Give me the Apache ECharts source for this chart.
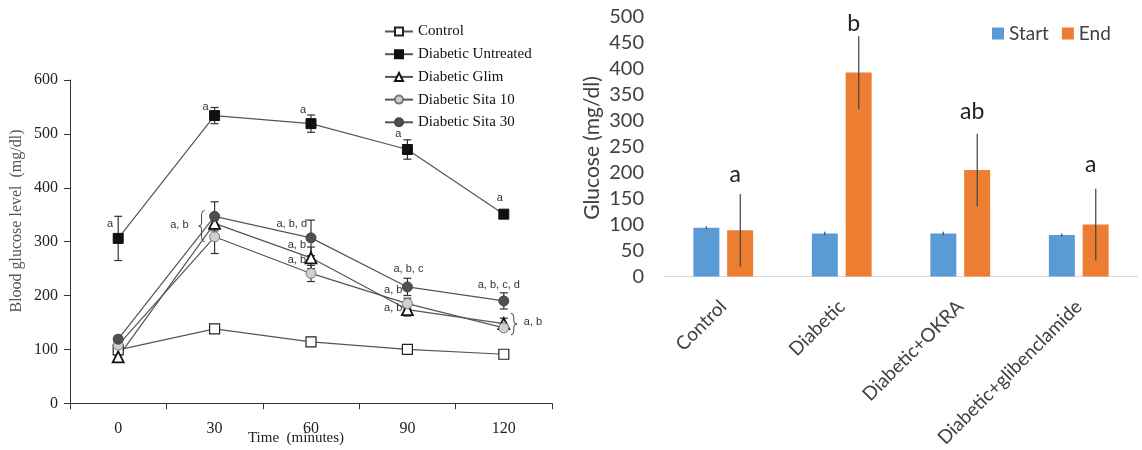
<!DOCTYPE html>
<html><head><meta charset="utf-8">
<script src="https://cdn.jsdelivr.net/npm/echarts@6/dist/echarts.min.js"></script>
<style>html,body{margin:0;padding:0;background:#fff}#c{width:1142px;height:450px}</style>
</head><body><div id="c"></div>
<script>
// ---- Left chart data ----
const timeLabels = ['0', '30', '60', '90', '120'];
const control = [99, 138, 114, 100, 91];
const controlErr = [4, 5, 4, 4, 4];
const untreated = [306, 534, 519, 471, 351];
const untreatedErr = [41, 15, 16, 18, 5];
const glim = [86, 334, 270, 174, 148];
const glimErr = [4, 10, 20, 12, 10];
const sita10 = [108, 309, 241, 185, 140];
const sita10Err = [6, 31, 15, 10, 5];
const sita30 = [119, 347, 307, 216, 190];
const sita30Err = [6, 27, 33, 16, 15];
// [time index, value, text, align, dx]
const leftAnnotations = [
  [0, 333, 'a', 'right', -5],
  [1, 331, 'a, b', 'right', -26],
  [1, 550, 'a', 'right', -6],
  [2, 544, 'a', 'right', -5],
  [3, 500, 'a', 'right', -6],
  [4, 381, 'a', 'right', -1],
  [2, 333, 'a, b, d', 'right', -4],
  [2, 294, 'a, b', 'right', -5],
  [2, 266, 'a, b', 'right', -5],
  [3, 249, 'a, b, c', 'center', 1],
  [3, 210, 'a, b', 'right', -5],
  [3, 177, 'a, b', 'right', -5],
  [4, 220, 'a, b, c, d', 'center', -5],
  [4, 151, 'a, b', 'left', 20]
];
// [time index, top value, bottom value, dx, direction]
const braces = [[1, 358, 300, -16, 'open'], [4, 167, 127, 7, 'close']];

// ---- Right chart data ----
const groups = ['Control', 'Diabetic', 'Diabetic+OKRA', 'Diabetic+glibenclamide'];
const startVals = [94, 83, 83, 80];
const startErr = [3, 3, 3, 3];
const endVals = [89, 393, 205, 100];
const endErr = [70, 70, 70, 69];
const sigLetters = ['a', 'b', 'ab', 'a'];
const sigLetterY = [197, 488, 318, 215];

const SERIF = '"Liberation Serif", "Times New Roman", serif';
const SANS = 'Lato, "Liberation Sans", sans-serif';
const LINE = '#555';

function lineSeries(name, data, symbol, fill, border, bw) {
  return {
    type: 'line', name, data, xAxisIndex: 0, yAxisIndex: 0,
    symbol, symbolSize: symbol === 'triangle' ? 11 : 10,
    lineStyle: { color: LINE, width: 1.2 },
    itemStyle: { color: fill, borderColor: border, borderWidth: bw, opacity: 1 },
    z: 4
  };
}
function errSeries(vals, errs) {
  return {
    type: 'custom', xAxisIndex: 0, yAxisIndex: 0, z: 3, silent: true,
    data: vals.map((v, i) => [i, v - errs[i], v + errs[i]]),
    renderItem(params, api) {
      const lo = api.coord([api.value(0), api.value(1)]);
      const hi = api.coord([api.value(0), api.value(2)]);
      const x = lo[0], c = 4;
      const st = { stroke: '#333', lineWidth: 1.2 };
      return { type: 'group', children: [
        { type: 'line', shape: { x1: x, y1: lo[1], x2: x, y2: hi[1] }, style: st },
        { type: 'line', shape: { x1: x - c, y1: lo[1], x2: x + c, y2: lo[1] }, style: st },
        { type: 'line', shape: { x1: x - c, y1: hi[1], x2: x + c, y2: hi[1] }, style: st }
      ]};
    }
  };
}
function barErr(vals, errs, side) {
  return {
    type: 'custom', xAxisIndex: 1, yAxisIndex: 1, z: 5, silent: true,
    data: vals.map((v, i) => [i, v - errs[i], v + errs[i]]),
    renderItem(params, api) {
      const lo = api.coord([api.value(0), api.value(1)]);
      const hi = api.coord([api.value(0), api.value(2)]);
      const x = lo[0] + side * 17;
      return { type: 'line', shape: { x1: x, y1: lo[1], x2: x, y2: hi[1] }, style: { stroke: '#404040', lineWidth: 1.2 } };
    }
  };
}

const chart = echarts.init(document.getElementById('c'), null, { renderer: 'canvas' });
chart.setOption({
  animation: false,
  backgroundColor: '#fff',
  grid: [
    { left: 70, top: 80, width: 482, height: 323.3 },
    { left: 664, top: 17, width: 474, height: 260.7 }
  ],
  legend: [
    {
      data: ['Control', 'Diabetic Untreated', 'Diabetic Glim', 'Diabetic Sita 10', 'Diabetic Sita 30'],
      orient: 'vertical', left: 379, top: 19, itemWidth: 28, itemHeight: 10, itemGap: 7.7,
      textStyle: { fontFamily: SERIF, fontSize: 15, color: '#111' }
    },
    {
      data: ['Start', 'End'], left: 987, top: 19, icon: 'rect', itemWidth: 12, itemHeight: 12, itemGap: 13,
      textStyle: { fontFamily: SANS, fontSize: 19, color: '#404040' }
    }
  ],
  xAxis: [
    {
      type: 'category', gridIndex: 0, data: timeLabels, boundaryGap: true,
      axisLine: { lineStyle: { color: '#333', width: 1 } },
      axisTick: { show: true, length: 6, lineStyle: { color: '#333' } },
      axisLabel: { fontFamily: SERIF, fontSize: 16, color: '#222', margin: 17 }
    },
    {
      type: 'category', gridIndex: 1, data: groups,
      axisLine: { lineStyle: { color: '#d9d9d9', width: 1 } },
      axisTick: { show: false },
      axisLabel: { fontFamily: SANS, fontSize: 19, color: '#404040', rotate: 45, margin: 27, interval: 0 }
    }
  ],
  yAxis: [
    {
      type: 'value', gridIndex: 0, min: 0, max: 600, interval: 100,
      axisLine: { show: true, lineStyle: { color: '#333', width: 1 } },
      axisTick: { show: true, length: 6, lineStyle: { color: '#333' } },
      splitLine: { show: false },
      axisLabel: { fontFamily: SERIF, fontSize: 16, color: '#222', margin: 12 }
    },
    {
      type: 'value', gridIndex: 1, min: 0, max: 500, interval: 50,
      axisLine: { show: false }, axisTick: { show: false }, splitLine: { show: false },
      axisLabel: { fontFamily: SANS, fontSize: 20, color: '#404040', margin: 20 }
    }
  ],
  graphic: [
    { type: 'text', x: 296, y: 438, style: { text: 'Time  (minutes)', font: '15px ' + SERIF, fill: '#222', align: 'center', verticalAlign: 'middle' } },
    { type: 'text', x: 17, y: 221, rotation: Math.PI / 2, style: { text: 'Blood glucose level  (mg/dl)', font: '16px ' + SERIF, fill: '#555', align: 'center', verticalAlign: 'middle' } },
    { type: 'text', x: 592, y: 148, rotation: Math.PI / 2, style: { text: 'Glucose (mg/dl)', font: '21px ' + SANS, fill: '#404040', align: 'center', verticalAlign: 'middle' } }
  ],
  series: [
    lineSeries('Control', control, 'rect', '#fff', '#222', 1.2),
    lineSeries('Diabetic Untreated', untreated, 'rect', '#111', '#111', 1),
    lineSeries('Diabetic Glim', glim, 'triangle', '#fff', '#111', 1.8),
    lineSeries('Diabetic Sita 10', sita10, 'circle', '#d0d0d0', '#777', 1),
    lineSeries('Diabetic Sita 30', sita30, 'circle', '#505050', '#444', 1),
    errSeries(control, controlErr),
    errSeries(untreated, untreatedErr),
    errSeries(glim, glimErr),
    errSeries(sita10, sita10Err),
    errSeries(sita30, sita30Err),
    {
      type: 'custom', xAxisIndex: 0, yAxisIndex: 0, z: 6, silent: true,
      data: leftAnnotations.map(a => [a[0], a[1]]),
      renderItem(params, api) {
        const p = api.coord([api.value(0), api.value(1)]);
        const a = leftAnnotations[params.dataIndex];
        return { type: 'text', x: p[0] + a[4], y: p[1], style: { text: a[2], align: a[3], verticalAlign: 'middle', font: '11px "Liberation Sans", Arial, sans-serif', fill: '#333' } };
      }
    },
    {
      type: 'custom', xAxisIndex: 0, yAxisIndex: 0, z: 6, silent: true,
      data: braces.map(b => [b[0], b[1], b[2]]),
      renderItem(params, api) {
        const b = braces[params.dataIndex];
        const t = api.coord([api.value(0), api.value(1)]);
        const bt = api.coord([api.value(0), api.value(2)]);
        const y1 = t[1], y2 = bt[1], m = (y1 + y2) / 2;
        const w = 6, x0 = t[0] + b[3];
        let d;
        if (b[4] === 'open') {
          const xo = x0 + w, xm = x0 + w / 2, xt = x0;
          d = `M${xo} ${y1} Q${xm} ${y1} ${xm} ${y1 + 4} L${xm} ${m - 3} Q${xm} ${m} ${xt} ${m} Q${xm} ${m} ${xm} ${m + 3} L${xm} ${y2 - 4} Q${xm} ${y2} ${xo} ${y2}`;
        } else {
          const xo = x0, xm = x0 + w / 2, xt = x0 + w;
          d = `M${xo} ${y1} Q${xm} ${y1} ${xm} ${y1 + 4} L${xm} ${m - 3} Q${xm} ${m} ${xt} ${m} Q${xm} ${m} ${xm} ${m + 3} L${xm} ${y2 - 4} Q${xm} ${y2} ${xo} ${y2}`;
        }
        return { type: 'path', shape: { pathData: d }, style: { stroke: '#444', lineWidth: 1, fill: null } };
      }
    },
    {
      type: 'bar', name: 'Start', data: startVals, xAxisIndex: 1, yAxisIndex: 1,
      barWidth: 26, barGap: '30%', itemStyle: { color: '#5B9BD5' }
    },
    {
      type: 'bar', name: 'End', data: endVals, xAxisIndex: 1, yAxisIndex: 1,
      barWidth: 26, barGap: '30%', itemStyle: { color: '#ED7D31' }
    },
    barErr(startVals, startErr, -1),
    barErr(endVals, endErr, 1),
    {
      type: 'custom', xAxisIndex: 1, yAxisIndex: 1, z: 6, silent: true,
      data: sigLetterY.map((v, i) => [i, v]),
      renderItem(params, api) {
        const p = api.coord([api.value(0), api.value(1)]);
        return { type: 'text', x: p[0] + 12, y: p[1], style: { text: sigLetters[params.dataIndex], align: 'center', verticalAlign: 'middle', font: '23px ' + SANS, fill: '#222' } };
      }
    }
  ]
});
</script>
</body></html>
